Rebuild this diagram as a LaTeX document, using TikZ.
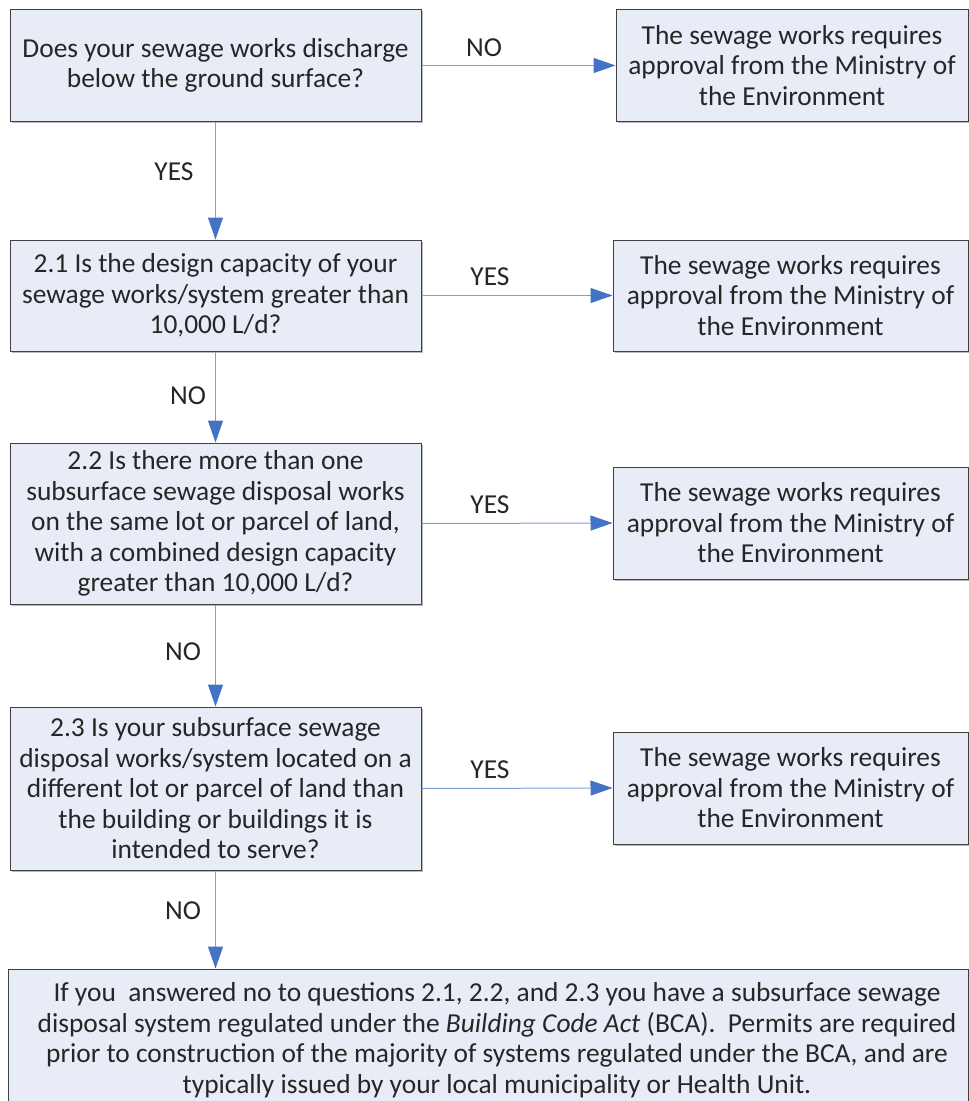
\documentclass[tikz,border=0pt]{standalone}
\usepackage{fontspec}
\setmainfont{Carlito}
\usetikzlibrary{arrows.meta,shadows}
\definecolor{boxfill}{HTML}{E7ECF6}
\definecolor{boxline}{HTML}{404040}
\definecolor{arrline}{HTML}{7F9FD6}
\definecolor{arrhead}{HTML}{4472C4}
\begin{document}
\begin{tikzpicture}[x=1pt,y=-1pt,
  every node/.style={font=\fontsize{27.4}{30.5}\selectfont, text=black!85},
  fbox/.style={draw=boxline, line width=1pt, fill=boxfill, inner sep=0pt, align=center,
    drop shadow={shadow xshift=1.5pt, shadow yshift=-1.5pt, opacity=0.45, fill=black!60}},
  conn/.style={draw=arrline, line width=1pt, -{Triangle[length=22pt,width=15pt,color=arrhead]}},
  lbl/.style={inner sep=0pt}
]
\useasboundingbox (0,0) rectangle (969,1101);
% left column
\node[fbox, minimum width=411pt, minimum height=112pt] (q0) at (215.5,65.5)
  {Does your sewage works discharge\\below the ground surface?};
\node[fbox, minimum width=411pt, minimum height=111pt] (q1) at (215.5,295.5)
  {2.1 Is the design capacity of your\\sewage works/system greater than\\10,000 L/d?};
\node[fbox, minimum width=411pt, minimum height=161pt] (q2) at (215.5,523.5)
  {2.2 Is there more than one\\subsurface sewage disposal works\\on the same lot or parcel of land,\\with a combined design capacity\\greater than 10,000 L/d?};
\node[fbox, minimum width=411pt, minimum height=163pt] (q3) at (215.5,788.5)
  {2.3 Is your subsurface sewage\\disposal works/system located on a\\different lot or parcel of land than\\the building or buildings it is\\intended to serve?};
% right column
\node[fbox, minimum width=352pt, minimum height=112pt] (a0) at (792,65.5)
  {The sewage works requires\\approval from the Ministry of\\the Environment};
\node[fbox, minimum width=355pt, minimum height=111pt] (a1) at (790.5,295.5)
  {The sewage works requires\\approval from the Ministry of\\the Environment};
\node[fbox, minimum width=355pt, minimum height=112pt] (a2) at (790.5,523)
  {The sewage works requires\\approval from the Ministry of\\the Environment};
\node[fbox, minimum width=355pt, minimum height=112pt] (a3) at (790.5,788)
  {The sewage works requires\\approval from the Ministry of\\the Environment};
% bottom
\node[fbox, minimum width=960pt, minimum height=142pt] (fin) at (488,1040) {};
\node[align=center, inner sep=0pt] (fintext) at (497,1040)
  {If you\ \ answered no to questions 2.1, 2.2, and 2.3 you have a subsurface sewage\\disposal system regulated under the \textit{Building Code Act} (BCA).\ \ Permits are required\\prior to construction of the majority of systems regulated under the BCA, and are\\typically issued by your local municipality or Health Unit.};
% connectors
\draw[conn] (q0.east) -- (a0.west);
\draw[conn] (q1.east) -- (a1.west);
\draw[conn] (q2.east) -- (a2.west);
\draw[conn] (q3.east) -- (a3.west);
\draw[conn] (q0.south) -- (q1.north);
\draw[conn] (q1.south) -- (q2.north);
\draw[conn] (q2.south) -- (q3.north);
\draw[conn] (q3.south) -- (q3.south |- fin.north);
% labels
\node[lbl] (l0) at (484,48) {NO};
\node[lbl] (l1) at (174,172) {YES};
\node[lbl] (l2) at (490,277) {YES};
\node[lbl] (l3) at (188,396) {NO};
\node[lbl] (l4) at (490,505) {YES};
\node[lbl] (l5) at (183,652) {NO};
\node[lbl] (l6) at (490,770) {YES};
\node[lbl] (l7) at (183,911) {NO};
\end{tikzpicture}
\end{document}
